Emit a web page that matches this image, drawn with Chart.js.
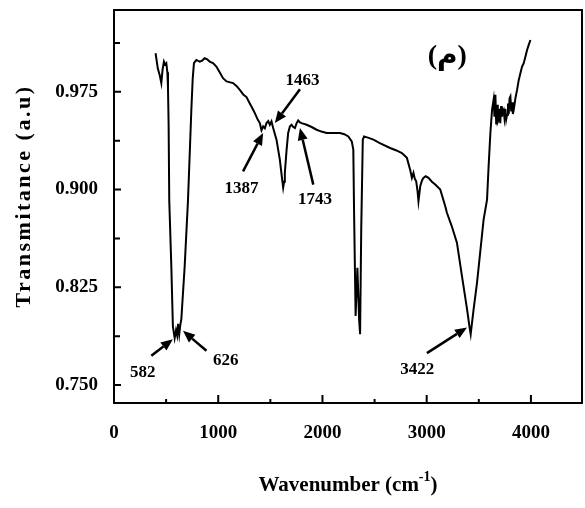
<!DOCTYPE html>
<html><head><meta charset="utf-8">
<script src="https://cdn.jsdelivr.net/npm/chart.js@4.4.1/dist/chart.umd.min.js"></script>
<style>html,body{margin:0;padding:0;background:#fff}#wrap{width:585px;height:508px}</style>
</head><body><div id="wrap"><canvas id="c" width="585" height="508"></canvas></div>
<script>
// ---- data ----
const wavenumbers = [399,420,438,454,466,479,490,502,512,518,524,530,550,565,582,595,606,615,626,636,646,678,710,730,742,755,767,790,822,846,870,894,918,950,982,1014,1046,1080,1142,1175,1207,1240,1271,1303,1335,1351,1380,1399,1415,1431,1447,1463,1480,1495,1511,1527,1559,1591,1610,1623,1632,1639,1656,1671,1688,1704,1720,1736,1752,1767,1784,1800,1848,1896,1944,1990,2040,2100,2168,2210,2248,2281,2296,2303,2318,2335,2352,2361,2372,2387,2399,2450,2489,2550,2649,2710,2762,2810,2841,2858,2873,2885,2899,2912,2921,2938,2955,2969,2990,3017,3050,3082,3130,3178,3194,3240,3290,3338,3387,3410,3422,3450,3483,3546,3579,3594,3611,3627,3642,3650,3659,3667,3675,3682,3690,3698,3706,3714,3722,3730,3738,3746,3755,3763,3771,3780,3787,3795,3803,3811,3819,3827,3835,3851,3867,3883,3899,3915,3931,3947,3963,3979,3995];
const transmittance = [1.0046,0.993,0.988,0.9817,0.992,0.9982,0.996,0.997,0.990,0.978,0.950,0.892,0.841,0.795,0.786,0.792,0.788,0.797,0.789,0.796,0.8005,0.841,0.892,0.935,0.961,0.985,0.997,0.9995,0.9982,0.999,1.0008,1.000,0.9982,0.997,0.9944,0.990,0.9855,0.983,0.9817,0.9795,0.9765,0.973,0.971,0.966,0.9612,0.9587,0.9535,0.951,0.9455,0.9485,0.947,0.951,0.9525,0.9497,0.9523,0.9472,0.9383,0.923,0.910,0.9015,0.906,0.9128,0.9306,0.9434,0.9485,0.9497,0.948,0.9472,0.951,0.953,0.9515,0.951,0.9497,0.948,0.9459,0.9445,0.9434,0.9434,0.9434,0.9425,0.9408,0.937,0.9306,0.8847,0.803,0.840,0.800,0.789,0.870,0.9383,0.9408,0.9395,0.9383,0.9357,0.9319,0.930,0.928,0.9243,0.9153,0.909,0.9128,0.9085,0.9064,0.899,0.891,0.9025,0.907,0.909,0.9102,0.909,0.906,0.9038,0.900,0.8872,0.8822,0.872,0.8592,0.8337,0.8082,0.795,0.789,0.808,0.8286,0.877,0.8923,0.9178,0.9434,0.9612,0.969,0.956,0.9727,0.950,0.965,0.952,0.9536,0.962,0.951,0.964,0.956,0.960,0.9612,0.955,0.962,0.954,0.9574,0.966,0.958,0.970,0.9714,0.960,0.967,0.958,0.9612,0.970,0.9765,0.984,0.9893,0.9944,0.997,1.002,1.0071,1.011,1.0148];
const xTickValues = [0,1000,2000,3000,4000];
const xMinorTickValues = [500,1500,2500,3500];
const yTickValues = [0.750,0.825,0.900,0.975];
const yMinorTickValues = [0.7875,0.8625,0.9375,1.0125];
const peakLabels = ['582','626','1387','1463','1743','3422'];
const peakLabelAt = [[277,0.7596],[1072,0.7691],[1223,0.9004],[1808,0.9834],[1928,0.8923],[2909,0.7622]];
const peakArrowFrom = [[358,0.7724],[887,0.7763],[1238,0.914],[1784,0.977],[1912,0.9038],[3002,0.7745]];
const peakArrowTo = [[565,0.7852],[662,0.7916],[1431,0.9434],[1543,0.951],[1784,0.9472],[3387,0.7942]];
const panelLabel = '(م)';
const panelLabelAt = [3197,1.0018];
const xTitleMain = 'Wavenumber (cm';
const xTitleSup = '-1';
const yTitle = 'Transmitance (a.u)';

const SERIF = '"Liberation Serif","Times New Roman",serif';

const points = wavenumbers.map((w,i)=>({x:w,y:transmittance[i]}));

function arrow(ctx, x1,y1,x2,y2){
  const ang = Math.atan2(y2-y1,x2-x1);
  const hl = 12, hw = 5;
  const bx = x2 - hl*Math.cos(ang), by = y2 - hl*Math.sin(ang);
  ctx.beginPath(); ctx.moveTo(x1,y1); ctx.lineTo(bx,by); ctx.stroke();
  ctx.beginPath();
  ctx.moveTo(x2,y2);
  ctx.lineTo(bx + hw*Math.sin(ang), by - hw*Math.cos(ang));
  ctx.lineTo(bx - hw*Math.sin(ang), by + hw*Math.cos(ang));
  ctx.closePath(); ctx.fill();
}

const decor = {
  id:'decor',
  afterDraw(chart){
    const {ctx, chartArea:a, scales:{x,y}} = chart;
    ctx.save();
    ctx.strokeStyle='#000'; ctx.fillStyle='#000';
    ctx.lineWidth=2;
    ctx.strokeRect(a.left, a.top, a.right-a.left, a.bottom-a.top);
    ctx.beginPath();
    xTickValues.forEach(v=>{const p=x.getPixelForValue(v); ctx.moveTo(p,a.bottom); ctx.lineTo(p,a.bottom-8);});
    xMinorTickValues.forEach(v=>{const p=x.getPixelForValue(v); ctx.moveTo(p,a.bottom); ctx.lineTo(p,a.bottom-4);});
    yTickValues.forEach(v=>{const p=y.getPixelForValue(v); ctx.moveTo(a.left,p); ctx.lineTo(a.left+7,p);});
    yMinorTickValues.forEach(v=>{const p=y.getPixelForValue(v); ctx.moveTo(a.left,p); ctx.lineTo(a.left+6,p);});
    ctx.stroke();
    // arrows + labels
    ctx.lineWidth=2.5;
    peakLabels.forEach((t,i)=>{
      arrow(ctx, x.getPixelForValue(peakArrowFrom[i][0]), y.getPixelForValue(peakArrowFrom[i][1]),
                 x.getPixelForValue(peakArrowTo[i][0]), y.getPixelForValue(peakArrowTo[i][1]));
      ctx.font='bold 17px '+SERIF; ctx.textAlign='center'; ctx.textBaseline='middle';
      ctx.fillText(t, x.getPixelForValue(peakLabelAt[i][0]), y.getPixelForValue(peakLabelAt[i][1]));
    });
    ctx.font='bold 28px "Liberation Serif","DejaVu Sans",serif';
    ctx.textAlign='center'; ctx.textBaseline='middle';
    ctx.fillText(panelLabel, x.getPixelForValue(panelLabelAt[0]), y.getPixelForValue(panelLabelAt[1]));
    // y title
    ctx.save();
    ctx.translate(24,196); ctx.rotate(-Math.PI/2);
    ctx.font='bold 22px '+SERIF; ctx.textAlign='center'; ctx.textBaseline='middle';
    try{ctx.letterSpacing='2.5px';}catch(e){}
    ctx.fillText(yTitle,0,0);
    try{ctx.letterSpacing='0px';}catch(e){}
    ctx.restore();
    // x title with superscript
    ctx.textAlign='left'; ctx.textBaseline='alphabetic';
    ctx.font='bold 21px '+SERIF; const w1=ctx.measureText(xTitleMain).width; const w3=ctx.measureText(')').width;
    ctx.font='bold 14px '+SERIF; const w2=ctx.measureText(xTitleSup).width;
    let sx=(a.left+a.right)/2-(w1+w2+w3)/2; const base=491;
    ctx.font='bold 21px '+SERIF; ctx.fillText(xTitleMain,sx,base);
    ctx.font='bold 14px '+SERIF; ctx.fillText(xTitleSup,sx+w1,base-10);
    ctx.font='bold 21px '+SERIF; ctx.fillText(')',sx+w1+w2,base);
    ctx.restore();
  }
};

new Chart(document.getElementById('c'),{
  type:'line',
  data:{datasets:[{data:points,borderColor:'#000',borderWidth:2,pointRadius:0,tension:0,fill:false}]},
  options:{
    responsive:false, animation:false, devicePixelRatio:1,
    layout:{padding:{top:10,right:3,left:0,bottom:0}},
    plugins:{legend:{display:false},tooltip:{enabled:false}},
    scales:{
      x:{type:'linear',min:0,max:4490,
        afterBuildTicks:s=>{s.ticks=xTickValues.map(v=>({value:v}));},
        afterFit:s=>{s.height=105;s.paddingLeft=0;s.paddingRight=0;},
        grid:{display:false,drawTicks:false},border:{display:false},
        ticks:{color:'#000',font:{family:SERIF,size:19,weight:'bold'},padding:19,maxRotation:0,autoSkip:false,callback:v=>String(v)}},
      y:{type:'linear',min:0.7362,max:1.0378,
        afterBuildTicks:s=>{s.ticks=yTickValues.map(v=>({value:v}));},
        afterFit:s=>{s.width=114;s.paddingTop=0;s.paddingBottom=0;},
        grid:{display:false,drawTicks:false},border:{display:false},
        ticks:{color:'#000',font:{family:SERIF,size:19,weight:'bold'},padding:16,autoSkip:false,callback:v=>v.toFixed(3)}}
    }
  },
  plugins:[decor]
});
</script></body></html>
